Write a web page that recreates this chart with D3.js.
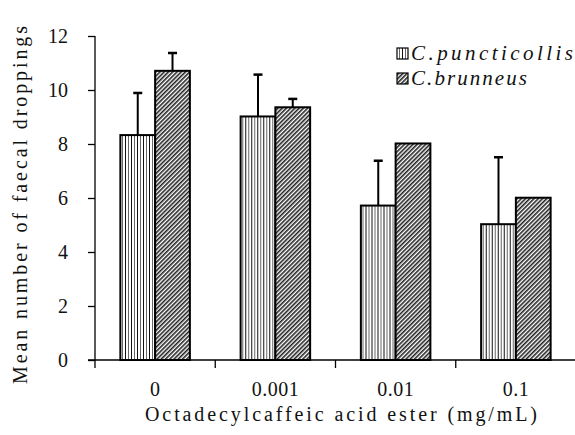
<!DOCTYPE html>
<html><head><meta charset="utf-8">
<script src="https://cdn.jsdelivr.net/npm/d3@7"></script>
<style>body{margin:0;background:#fff}svg{display:block}</style>
</head><body>
<script>
const categories = ["0", "0.001", "0.01", "0.1"];
const seriesNames = ["C.puncticollis", "C.brunneus"];
const puncticollis = [8.33, 9.02, 5.72, 5.03];
const puncticollisErr = [1.56, 1.55, 1.66, 2.48];
const brunneus = [10.71, 9.36, 8.02, 6.01];
const brunneusErr = [0.66, 0.31, 0, 0];
const yTicks = [0, 2, 4, 6, 8, 10, 12];
const xTitle = "Octadecylcaffeic acid ester (mg/mL)";
const yTitle = "Mean number of faecal droppings";

// pick an installed serif font
function pickFont() {
  const ctx = document.createElement("canvas").getContext("2d");
  const s = "Mean number of faecal droppings 0123456789 Wil";
  const base = {};
  ["monospace", "sans-serif"].forEach(b => { ctx.font = "40px " + b; base[b] = ctx.measureText(s).width; });
  const cands = ["Liberation Serif", "Tinos", "Times New Roman", "Times", "DejaVu Serif", "Noto Serif", "FreeSerif", "Nimbus Roman", "Nimbus Roman No9 L"];
  for (const c of cands) {
    let ok = false;
    for (const b of ["monospace", "sans-serif"]) {
      ctx.font = `40px "${c}", ${b}`;
      if (Math.abs(ctx.measureText(s).width - base[b]) > 0.5) ok = true;
    }
    if (ok) return `"${c}", serif`;
  }
  return "serif";
}
const font = pickFont();

const W = 575, H = 435;
const svg = d3.select("body").append("svg").attr("width", W).attr("height", H)
  .style("font-family", font);

const defs = svg.append("defs");
const p1 = defs.append("pattern").attr("id", "vstripe").attr("patternUnits", "userSpaceOnUse")
  .attr("width", 6).attr("height", 6);
p1.append("rect").attr("width", 6).attr("height", 6).attr("fill", "#fff");
p1.append("line").attr("x1", 0.5).attr("x2", 0.5).attr("y1", 0).attr("y2", 6).attr("stroke", "#111").attr("stroke-width", 1);
p1.append("line").attr("x1", 3.5).attr("x2", 3.5).attr("y1", 0).attr("y2", 6).attr("stroke", "#666").attr("stroke-width", 1);

const p2 = defs.append("pattern").attr("id", "dstripe").attr("patternUnits", "userSpaceOnUse")
  .attr("width", 3).attr("height", 3).attr("patternTransform", "rotate(45)");
p2.append("rect").attr("width", 3).attr("height", 3).attr("fill", "#fff");
p2.append("rect").attr("x", 0).attr("y", 0).attr("width", 1.6).attr("height", 3).attr("fill", "#222");

const fills = ["url(#vstripe)", "url(#dstripe)"];

const x0 = d3.scaleBand().domain(categories).range([95, 576]).padding(0);
const x1 = d3.scaleBand().domain(seriesNames).range([0, x0.bandwidth()]).paddingInner(0).paddingOuter(0.73);
const y = d3.scaleLinear().domain([0, 12]).range([360, 36]);

const data = categories.map((c, i) => ({
  cat: c,
  vals: [
    { s: seriesNames[0], v: puncticollis[i], e: puncticollisErr[i], k: 0 },
    { s: seriesNames[1], v: brunneus[i], e: brunneusErr[i], k: 1 }
  ]
}));

// y axis
const yAxis = svg.append("g").attr("transform", "translate(95,0)")
  .call(d3.axisLeft(y).tickValues(yTicks).tickSize(7).tickPadding(20));
yAxis.attr("font-family", null);
yAxis.select(".domain").attr("d", `M0,${y(12)}V368`).attr("stroke-width", 1.3);
yAxis.selectAll(".tick line").attr("stroke-width", 1.3);
yAxis.selectAll("text").attr("font-size", 20).attr("fill", "#111");

// bars
const g = svg.append("g");
const groups = g.selectAll("g.grp").data(data).enter().append("g")
  .attr("transform", d => `translate(${x0(d.cat)},0)`);
groups.selectAll("rect").data(d => d.vals).enter().append("rect")
  .attr("x", d => x1(d.s)).attr("width", x1.bandwidth())
  .attr("y", d => y(d.v)).attr("height", d => y(0) - y(d.v))
  .attr("fill", d => fills[d.k]).attr("stroke", "#000").attr("stroke-width", 2);

// error bars
const eb = groups.selectAll("g.err").data(d => d.vals.filter(v => v.e > 0)).enter().append("g");
eb.append("line").attr("x1", d => x1(d.s) + x1.bandwidth() / 2).attr("x2", d => x1(d.s) + x1.bandwidth() / 2)
  .attr("y1", d => y(d.v)).attr("y2", d => y(d.v + d.e)).attr("stroke", "#000").attr("stroke-width", 2);
eb.append("line").attr("x1", d => x1(d.s) + x1.bandwidth() / 2 - 4.5).attr("x2", d => x1(d.s) + x1.bandwidth() / 2 + 4.5)
  .attr("y1", d => y(d.v + d.e)).attr("y2", d => y(d.v + d.e)).attr("stroke", "#000").attr("stroke-width", 2.5);

// x axis
const xAxis = svg.append("g").attr("transform", "translate(0,360)")
  .call(d3.axisBottom(x0).tickSize(0).tickPadding(22));
xAxis.attr("font-family", null);
xAxis.select(".domain").attr("d", "M88,0H576").attr("stroke-width", 1.5);
xAxis.selectAll("text").attr("font-size", 20).attr("fill", "#111").attr("letter-spacing", 0.5);
const bounds = categories.slice(1).map(c => x0(c));
svg.append("g").selectAll("line").data(bounds).enter().append("line")
  .attr("x1", d => d).attr("x2", d => d).attr("y1", 360).attr("y2", 368)
  .attr("stroke", "#000").attr("stroke-width", 1.3);

// titles
svg.append("text").attr("x", 341).attr("y", 421).attr("text-anchor", "middle")
  .attr("font-size", 20).attr("fill", "#111")
  .attr("textLength", 392).attr("lengthAdjust", "spacing").text(xTitle);
svg.append("text").attr("transform", "translate(27,205) rotate(-90)").attr("text-anchor", "middle")
  .attr("font-size", 20).attr("fill", "#111")
  .attr("textLength", 358).attr("lengthAdjust", "spacing").text(yTitle);

// legend
const legLen = [162, 116];
const leg = svg.append("g");
seriesNames.forEach((s, i) => {
  const yy = 48 + i * 25;
  leg.append("rect").attr("x", 397).attr("y", yy).attr("width", 11).attr("height", 11)
    .attr("fill", fills[i]).attr("stroke", "#000").attr("stroke-width", 1.2);
  leg.append("text").attr("x", 411).attr("y", yy + 12)
    .attr("font-style", "italic").attr("font-size", 21).attr("fill", "#111")
    .attr("textLength", legLen[i]).attr("lengthAdjust", "spacing").text(s);
});
</script>
</body></html>
